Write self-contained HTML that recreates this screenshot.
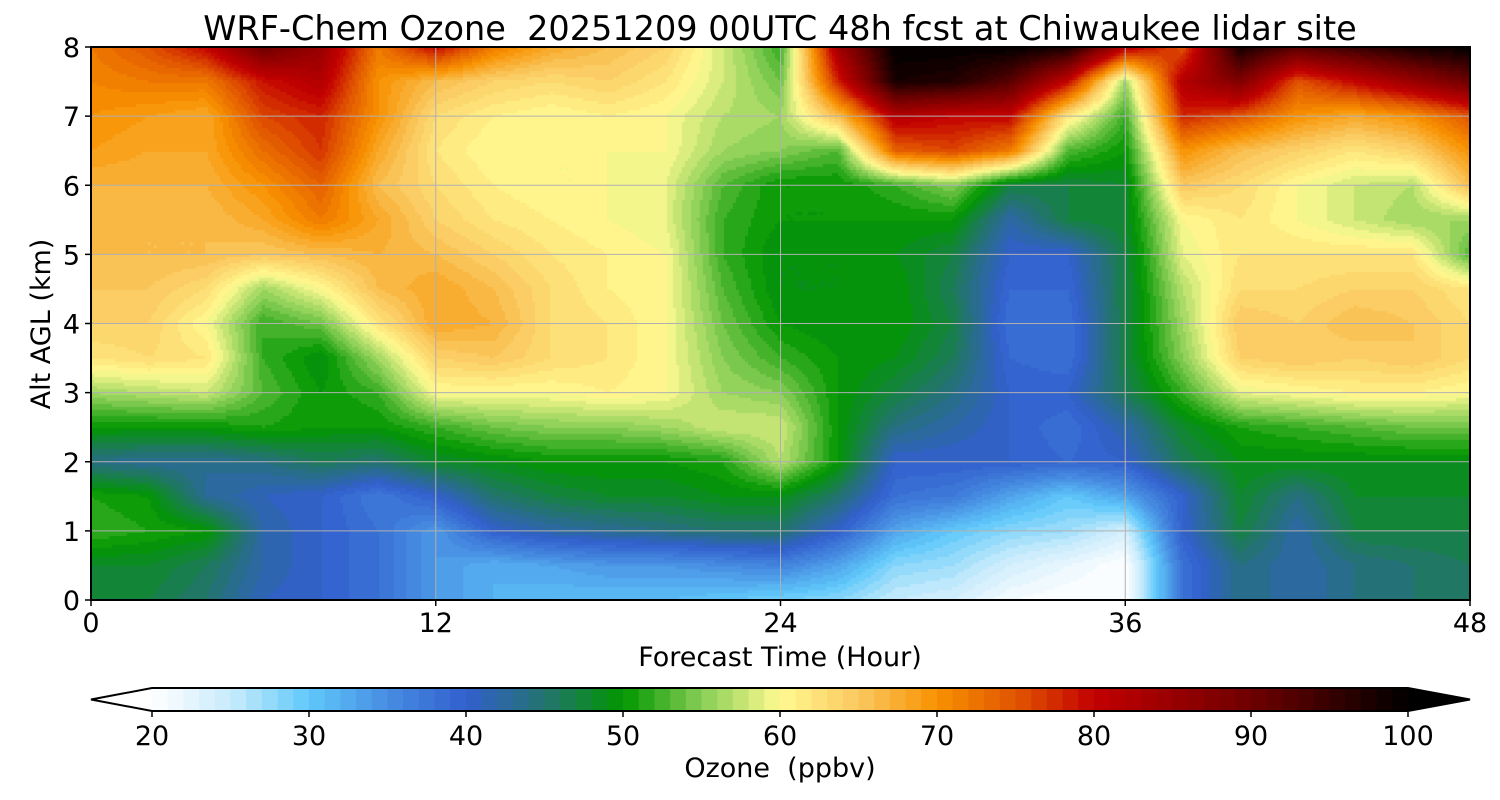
<!DOCTYPE html>
<html><head><meta charset="utf-8"><style>
body{margin:0;background:#fff;width:1500px;height:800px;overflow:hidden;font-family:"DejaVu Sans","Liberation Sans",sans-serif}
#wrap{position:relative;width:1500px;height:800px}
canvas{position:absolute;left:91px;top:47px}
svg{position:absolute;left:0;top:0}
svg text{white-space:pre}
</style></head><body>
<div id="wrap">
<canvas id="hm" width="1379" height="553"></canvas>
<svg id="ov" width="1500" height="800" font-family="DejaVu Sans, Liberation Sans, sans-serif"></svg>
</div>
<script>
const hours=[0,2,4,6,8,10,12,14,16,18,20,22,24,26,28,30,32,34,36,38,40,42,44,46,48];
const alts=[0,0.5,1,1.5,2,2.5,3,3.5,4,4.5,5,5.5,6,6.5,7,7.5,8];
const ozone=[
[47,47,45,41,40,38,34,32,31,31,31,30,29,28,25,24,21,20,20,38,44,42,44,45,46],
[48,48,46,42,40,38,34,32,33,34,34,35,36,33,28,27,24,22,20,38,44,42,44,45,46],
[52,51,50,42,40,38,34,40,42,43,44,45,45,40,33,30,28,27,24,40,47,42,47,47,47],
[51,50,43,41,40,37,40,45,47,48,48,49,49,45,38,37,33,30,33,40,48,44,48,48,48],
[44,43,43,44,46,45,48,49,50,50,50,51,57,50,40,40,40,39,40,46,49,49,49,49,49],
[50,50,50,51,50,50,52,54,55,55,56,58,58,50,44,42,40,38,42,48,51,52,53,54,54],
[56,57,58,53,50,52,60,60,60,61,60,56,55,50,47,44,40,40,46,52,59,60,61,61,60],
[62,63,62,52,49,56,64,65,63,62,60,55,52,50,49,46,39,38,47,55,64,65,64,65,63],
[64,64,60,52,54,62,68,67,63,62,60,54,50,49,50,47,38,38,47,56,65,64,66,65,63],
[65,65,63,56,60,66,68,66,63,61,60,53,49,49,50,46,39,39,47,57,63,63,64,64,62],
[66,66,66,65,66,67,66,64,62,61,60,52,49,49,49,47,40,40,47,59,62,62,62,62,53],
[67,66,66,68,72,68,64,62,61,60,59,52,50,50,50,50,42,47,48,60,62,60,58,56,56],
[67,67,67,70,74,66,63,61,60,60,59,53,50,50,52,55,47,47,48,65,63,60,58,57,66],
[69,68,68,73,77,68,62,60,60,60,60,56,55,53,74,76,72,53,50,70,66,64,62,64,70],
[70,69,68,76,78,70,63,61,60,61,60,57,56,66,82,80,80,62,52,78,75,70,68,70,75],
[71,72,72,79,82,70,66,64,63,64,62,58,54,78,98,97,92,80,56,82,88,75,80,85,90],
[72,75,80,90,85,72,80,72,68,66,64,58,52,84,100,100,100,98,82,75,98,92,95,98,100]];
const xTicks=[0,12,24,36,48];
const yTicks=[0,1,2,3,4,5,6,7,8];
const cbTicks=[20,30,40,50,60,70,80,90,100];

const stops=[[20,[255,255,255]],[25,[200,235,252]],[30,[95,200,250]],[35,[70,140,225]],[40,[50,95,205]],[45,[35,115,110]],[50,[0,150,0]],[55,[135,205,85]],[60,[255,250,145]],[65,[250,200,95]],[70,[248,145,0]],[75,[225,85,0]],[80,[195,0,0]],[90,[110,0,0]],[100,[0,0,0]]];
function cmap(v){v=Math.max(20,Math.min(100,v));for(let i=0;i<stops.length-1;i++){const a=stops[i],b=stops[i+1];if(v<=b[0]){const t=(v-a[0])/(b[0]-a[0]);return a[1].map((c,k)=>Math.round(c+(b[1][k]-c)*t));}}return [0,0,0];}
const X0=91,X1=1470,Y0=600,Y1=47;
const xs=h=>X0+(h-0)/48*(X1-X0), ys=a=>Y0-(a/8)*(Y0-Y1);
function val(h,a){
 let i=0;while(i<hours.length-2&&h>hours[i+1])i++;
 let j=0;while(j<alts.length-2&&a>alts[j+1])j++;
 const tx=(h-hours[i])/(hours[i+1]-hours[i]),ty=(a-alts[j])/(alts[j+1]-alts[j]);
 const v00=ozone[j][i],v10=ozone[j][i+1],v01=ozone[j+1][i],v11=ozone[j+1][i+1];
 return v00*(1-tx)*(1-ty)+v10*tx*(1-ty)+v01*(1-tx)*ty+v11*tx*ty;}
const ctx=document.getElementById('hm').getContext('2d');
const W=1379,H=553,S=3;
for(let px=0;px<W;px+=S)for(let py=0;py<H;py+=S){
 const h=(px+S/2)/W*48,a=8-(py+S/2)/H*8;
 const v=Math.floor(val(h,a));const c=cmap(v+0.5);
 ctx.fillStyle=`rgb(${c[0]},${c[1]},${c[2]})`;ctx.fillRect(px,py,S,S);}
const svg=document.getElementById('ov');const NS='http://www.w3.org/2000/svg';
function mk(t,at,txt){const e=document.createElementNS(NS,t);for(const k in at)e.setAttribute(k,at[k]);if(txt!==undefined)e.textContent=txt;svg.appendChild(e);return e;}
xTicks.forEach(h=>{const x=xs(h);
 const g=mk('line',{x1:x,x2:x,y1:Y1,y2:Y0,stroke:'#b0b0b0','stroke-width':1});
 
 const tk=mk('line',{x1:x,x2:x,y1:Y0,y2:Y0+6,stroke:'#000','stroke-width':1.5});
 
 const t=mk('text',{x:x,y:632,'font-size':27,'text-anchor':'middle'},h);
 });
yTicks.forEach(a=>{const y=ys(a);
 const g=mk('line',{x1:X0,x2:X1,y1:y,y2:y,stroke:'#b0b0b0','stroke-width':1});
 
 const tk=mk('line',{x1:X0-6,x2:X0,y1:y,y2:y,stroke:'#000','stroke-width':1.5});
 
 const t=mk('text',{x:80,y:y+10,'font-size':27,'text-anchor':'end'},a);
 });
const fr=mk('rect',{x:X0,y:Y1,width:X1-X0,height:Y0-Y1,fill:'none',stroke:'#000','stroke-width':2});

let e=mk('text',{x:780,y:40,'font-size':33.5,'text-anchor':'middle'},'WRF-Chem Ozone  20251209 00UTC 48h fcst at Chiwaukee lidar site');

e=mk('text',{x:780,y:666,'font-size':27,'text-anchor':'middle'},'Forecast Time (Hour)');

e=mk('text',{x:50,y:324,'font-size':27,'text-anchor':'middle',transform:'rotate(-90 50 324)'},'Alt AGL (km)');

const C0=152,C1=1408,CT=688,CB=711;const cx=v=>C0+(v-20)/80*(C1-C0);
for(let v=20;v<100;v++){const c=cmap(v+0.5);
 const r=mk('rect',{x:cx(v),y:CT,width:cx(v+1)-cx(v)+0.6,height:CB-CT,fill:`rgb(${c})`});
 }
e=mk('polygon',{points:`${C0},${CT} ${C0},${CB} 91,${(CT+CB)/2}`,fill:'#fff'});

e=mk('polygon',{points:`${C1},${CT} ${C1},${CB} 1470,${(CT+CB)/2}`,fill:'#000'});

e=mk('polygon',{points:`91,${(CT+CB)/2} ${C0},${CT} ${C1},${CT} 1470,${(CT+CB)/2} ${C1},${CB} ${C0},${CB}`,fill:'none',stroke:'#000','stroke-width':2});

cbTicks.forEach(v=>{const x=cx(v);
 const tk=mk('line',{x1:x,x2:x,y1:CB,y2:CB+6,stroke:'#000','stroke-width':1.5});
 
 const t=mk('text',{x:x,y:745,'font-size':27,'text-anchor':'middle'},v);
 });
e=mk('text',{x:780,y:777,'font-size':27,'text-anchor':'middle'},'Ozone  (ppbv)');

</script>
</body></html>
